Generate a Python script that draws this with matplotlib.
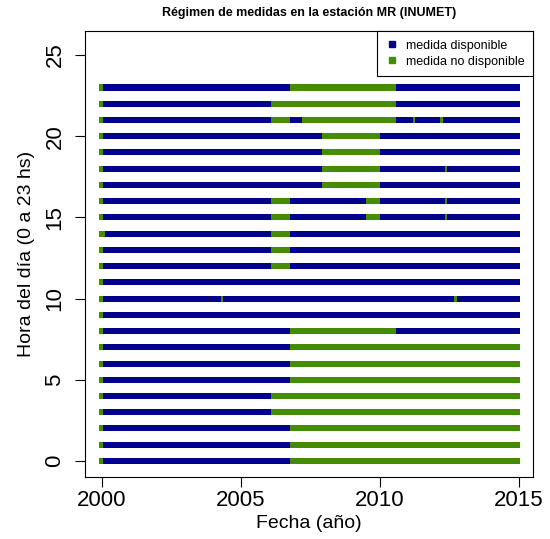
import matplotlib
matplotlib.use('Agg')
import matplotlib.pyplot as plt
from matplotlib.lines import Line2D

plt.rcParams['font.family'] = ['Liberation Sans', 'DejaVu Sans']

# ======================
# DATOS
# ======================
horas = list(range(24))
inicio = 1999.92      # comienzo del registro
fin = 2015.04         # fin del registro
inicio_ok = [2000.04] * 24   # primer dato disponible por hora
inicio_ok[14] = 2000.11

# intervalos sin medida (año inicio, año fin) para cada hora
huecos = [
    [(2006.76, 2015.04)],                                   # 0
    [(2006.76, 2015.04)],                                   # 1
    [(2006.76, 2015.04)],                                   # 2
    [(2006.08, 2015.04)],                                   # 3
    [(2006.08, 2015.04)],                                   # 4
    [(2006.76, 2015.04)],                                   # 5
    [(2006.76, 2015.04)],                                   # 6
    [(2006.76, 2015.04)],                                   # 7
    [(2006.76, 2010.58)],                                   # 8
    [],                                                     # 9
    [(2004.28, 2004.35), (2012.66, 2012.77)],               # 10
    [],                                                     # 11
    [(2006.08, 2006.76)],                                   # 12
    [(2006.08, 2006.76)],                                   # 13
    [(2006.08, 2006.76)],                                   # 14
    [(2006.08, 2006.76), (2009.50, 2010.00), (2012.34, 2012.41)],  # 15
    [(2006.08, 2006.76), (2009.50, 2010.00), (2012.34, 2012.41)],  # 16
    [(2007.91, 2010.00)],                                   # 17
    [(2007.91, 2010.00), (2012.34, 2012.41)],               # 18
    [(2007.91, 2010.00)],                                   # 19
    [(2007.91, 2010.00)],                                   # 20
    [(2006.08, 2006.76), (2007.19, 2010.58), (2011.19, 2011.26), (2012.16, 2012.27)],  # 21
    [(2006.08, 2010.58)],                                   # 22
    [(2006.76, 2010.58)],                                   # 23
]

azul = '#00008B'
verde = '#458B00'
alto = 0.37

# ======================
# GRAFICO
# ======================
fig = plt.figure(figsize=(5.5, 5.39), dpi=100)
ax = fig.add_axes([85/550, 1-477/539, 448/550, 446/539])

for h in horas:
    # barra completa disponible
    ax.barh(h, fin - inicio, left=inicio, height=alto, color=azul, linewidth=0)
    # hueco inicial
    ax.barh(h, inicio_ok[h] - inicio, left=inicio, height=alto, color=verde, linewidth=0)
    for a, b in huecos[h]:
        ax.barh(h, b - a, left=a, height=alto, color=verde, linewidth=0)

ax.set_xlim(1999.40, 2015.50)
ax.set_ylim(-0.99, 26.48)
ax.set_xticks([2000, 2005, 2010, 2015])
ax.set_yticks([0, 5, 10, 15, 20, 25])
ax.tick_params(axis='both', labelsize=16, length=7, width=0.8, direction='out')
ax.tick_params(axis='x', pad=2)
ax.tick_params(axis='y', pad=7)
for lab in ax.get_yticklabels():
    lab.set_rotation(90)
    lab.set_va('center')

for s in ax.spines.values():
    s.set_linewidth(0.8)

ax.set_xlabel('Fecha (año)', fontsize=14, labelpad=3)
ax.set_ylabel('Hora del día (0 a 23 hs)', fontsize=14, labelpad=7)

fig.text(309/550, 1-13/539, 'Régimen de medidas en la estación MR (INUMET)',
         ha='center', va='center', fontsize=9, fontweight='bold')

handles = [
    Line2D([], [], marker='s', color='none', markerfacecolor=azul, markeredgecolor=azul, markersize=4),
    Line2D([], [], marker='s', color='none', markerfacecolor=verde, markeredgecolor=verde, markersize=4),
]
leg = ax.legend(handles, ['medida disponible', 'medida no disponible'],
                loc='upper right', bbox_to_anchor=(1.0, 1.0), fontsize=9,
                frameon=True, fancybox=False, framealpha=1, edgecolor='black',
                borderaxespad=0, handlelength=1.0, handletextpad=0.6,
                labelspacing=0.3, borderpad=0.7)
leg.get_frame().set_linewidth(0.8)

fig.savefig('out.png', dpi=100)
